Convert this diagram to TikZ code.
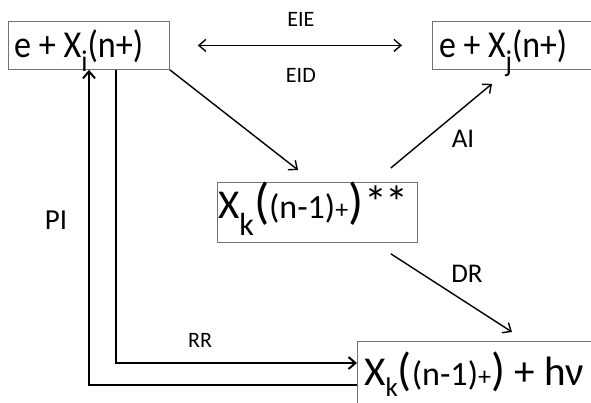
\documentclass[tikz,border=0pt]{standalone}
\usepackage{fontspec}
\usepackage{graphicx}
\setmainfont{Carlito}
\usetikzlibrary{arrows.meta,calc}
\newcommand\fs[2]{{\fontsize{#1}{#1}\selectfont #2}}
\newcommand\lowsub[3]{\raisebox{-#2pt}{\fontsize{#1}{#1}\selectfont #3}}
\newcommand\fitw[2]{\resizebox{#1}{\height}{#2}}
\tikzset{
  box/.style={draw=black!55, line width=0.8pt, rectangle, anchor=north west, inner sep=0pt},
  txt/.style={anchor=base west, inner sep=0pt},
  thin arrow/.style={line width=1.4pt, -{Straight Barb[length=7pt,width=12pt,line width=1.4pt]}},
  thick arrow/.style={line width=2.6pt, -{Straight Barb[length=7pt,width=12pt,line width=2pt]}},
  lbl/.style={font=\fontsize{22}{22}\selectfont, inner sep=0pt}
}
\begin{document}
\begin{tikzpicture}[x=1pt,y=-1pt]
\useasboundingbox (0,0) rectangle (591,402);
\clip (0,0) rectangle (591,402);
% boxes
\node[box, minimum width=161pt, minimum height=48pt] (A) at (8,21) {};
\node[box, minimum width=200pt, minimum height=48pt] (B) at (432,21) {};
\node[box, minimum width=200pt, minimum height=60pt] (C) at (217,182) {};
\node[box, minimum width=250pt, minimum height=72pt] (D) at (357,341) {};
% box texts
\node[txt] (At) at ($(A.north west)+(6,36)$)
  {\fitw{129pt}{\fs{38}{e + X\lowsub{30}{14}{i}(n+)}}};
\node[txt] (Bt) at ($(B.north west)+(7,36)$)
  {\fitw{128pt}{\fs{38}{e + X\lowsub{30}{14}{j}(n+)}}};
\node[txt] (Ct) at ($(C.north west)+(1,36)$)
  {\fitw{190pt}{\fs{41}{X\lowsub{32}{17}{k}\fs{50}{(}\fs{34}{(n-1)}\fs{26}{+}\fs{50}{)}\kern1pt\fs{46}{*\kern-2pt*}}}};
\node[txt] (Dt) at ($(D.north west)+(7,44)$)
  {\fitw{220pt}{\fs{41}{X\lowsub{27}{11}{k}\fs{46}{(}\fs{34}{(n-1)}\fs{26}{+}\fs{46}{)} + hν}}};
% EIE / EID
\draw[line width=1.4pt, {Straight Barb[length=7pt,width=12pt,line width=1.4pt]}-{Straight Barb[length=7pt,width=12pt,line width=1.4pt]}, shorten <=28pt, shorten >=30pt]
  (A.east) -- (B.west)
  node[lbl, midway, yshift=26pt] {EIE}
  node[lbl, midway, yshift=-30pt] {EID};
% A -> C
\draw[thin arrow] (A.south east) -- ($(C.north west)+(81,-12)$);
% AI
\draw[thin arrow] ($(C.north east)+(-27,-14)$) -- ($(B.south west)+(60,14)$);
\node[lbl, font=\fontsize{27}{27}\selectfont] (ai) at (463,139) {AI};
% DR
\draw[thin arrow] ($(C.south east)+(-27,11)$) -- ($(D.north west)+(155,-9)$);
\node[lbl, font=\fontsize{27}{27}\selectfont] (dr) at (467,274) {DR};
% RR
\draw[thick arrow] ($(A.south west)+(108,0)$) |- ($(D.north west)+(0,22)$);
\node[lbl] (rr) at (200,340) {RR};
% PI
\draw[thick arrow] ($(D.north west)+(0,44)$) -| ($(A.south west)+(81,0)$);
\node[lbl, font=\fontsize{29}{29}\selectfont] (pi) at (56,220) {PI};
\end{tikzpicture}
\end{document}
